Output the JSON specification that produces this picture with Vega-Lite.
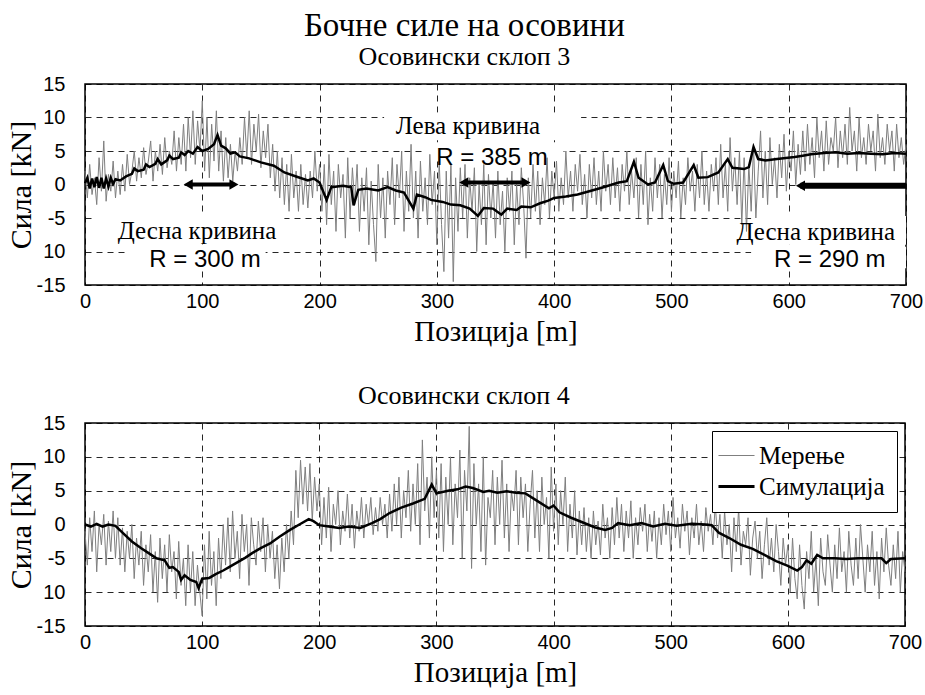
{
"$schema": "https://vega.github.io/schema/vega-lite/v6.json",
"background": "white",
"padding": {"left": 5, "top": 10, "right": 12, "bottom": 5},
"title": {"text": "Бочне силе на осовини", "font": "Liberation Serif", "fontSize": 33, "fontWeight": "normal", "color": "black", "anchor": "middle", "offset": 0},
"spacing": 35,
"resolve": {"scale": {"color": "independent", "shape": "independent"}, "legend": {"color": "independent", "shape": "independent"}},
"config": {
  "view": {"stroke": "black", "strokeWidth": 1.5},
  "axis": {"grid": true, "gridColor": "black", "gridDash": [6, 5], "gridWidth": 1, "gridOpacity": 0.85, "domain": false, "ticks": false, "labelFont": "Liberation Sans", "labelFontSize": 20, "labelColor": "black", "labelFlush": false, "labelOverlap": false, "titleFont": "Liberation Serif", "titleFontWeight": "normal", "titleColor": "black"},
  "axisX": {"labelPadding": 6, "titlePadding": 6, "titleFontSize": 29},
  "axisY": {"labelPadding": 20, "titlePadding": 0, "titleFontSize": 30},
  "title": {"font": "Liberation Serif", "fontSize": 26, "fontWeight": "normal", "color": "black", "offset": 4, "frame": "bounds", "anchor": "middle"},
  "legend": {"orient": "top-right", "offset": 8, "labelFont": "Liberation Serif", "labelFontSize": 25, "labelColor": "black", "symbolType": "stroke", "symbolSize": 1300, "strokeColor": "black", "fillColor": "white", "padding": 12, "rowPadding": 5, "labelOffset": 10, "symbolStrokeWidth": 2}
},
"datasets": {
"m3": [{"x":0,"y":2},{"x":2,"y":-2},{"x":4,"y":3},{"x":6,"y":-1.5},{"x":8,"y":1},{"x":10,"y":-3},{"x":12,"y":4},{"x":14,"y":-1},{"x":16,"y":6.5},{"x":18,"y":-2.5},{"x":20,"y":1.5},{"x":22,"y":-1},{"x":24,"y":3.5},{"x":26,"y":-2},{"x":28,"y":2},{"x":30,"y":-1.5},
{"x":32,"y":3},{"x":34,"y":-1},{"x":36,"y":4.5},{"x":38,"y":0},{"x":40,"y":2},{"x":42,"y":5},{"x":44,"y":0.5},{"x":46,"y":4},{"x":48,"y":1},{"x":50,"y":5.5},{"x":52,"y":1.5},{"x":54,"y":3.5},{"x":56,"y":6.5},{"x":58,"y":0.5},{"x":60,"y":5},{"x":62,"y":2},{"x":64,"y":6},{"x":66,"y":1.5},{"x":68,"y":7},{"x":70,"y":2.5},{"x":72,"y":5},{"x":74,"y":3},{"x":76,"y":8},{"x":78,"y":2},{"x":80,"y":7},
{"x":82,"y":3},{"x":84,"y":9},{"x":86,"y":2},{"x":88,"y":10},{"x":90,"y":4},{"x":92,"y":11},{"x":94,"y":3},{"x":96,"y":9.5},{"x":98,"y":5},{"x":100,"y":12.5},{"x":102,"y":2},{"x":104,"y":10},{"x":106,"y":1},{"x":108,"y":9},{"x":110,"y":3.5},{"x":112,"y":11},{"x":114,"y":2},{"x":116,"y":8},{"x":118,"y":0.5},{"x":120,"y":7},
{"x":122,"y":1},{"x":124,"y":6},{"x":126,"y":0.5},{"x":128,"y":5},{"x":130,"y":2},{"x":132,"y":7},{"x":134,"y":3},
{"x":136,"y":10},{"x":138,"y":4},{"x":140,"y":11},{"x":142,"y":3},{"x":144,"y":9},{"x":146,"y":5},{"x":148,"y":10.5},{"x":150,"y":2.5},{"x":152,"y":8},{"x":154,"y":4},{"x":156,"y":9},{"x":158,"y":1},{"x":160,"y":6},
{"x":162,"y":-1},{"x":164,"y":5},{"x":166,"y":-2},{"x":168,"y":4},{"x":170,"y":-3},{"x":172,"y":3},{"x":174,"y":-4},{"x":176,"y":4.5},{"x":178,"y":-2},{"x":180,"y":2},{"x":182,"y":-4},{"x":184,"y":3},{"x":186,"y":-3},{"x":188,"y":1.5},{"x":190,"y":-3.5},{"x":192,"y":2},{"x":194,"y":-2},{"x":196,"y":5},{"x":198,"y":-1},{"x":200,"y":3},
{"x":202,"y":-4},{"x":204,"y":3},{"x":206,"y":-6},{"x":208,"y":4.5},{"x":210,"y":-3},{"x":212,"y":2},{"x":214,"y":-7},{"x":216,"y":3},{"x":218,"y":-2},{"x":220,"y":1.5},{"x":222,"y":-8},{"x":224,"y":4},{"x":226,"y":-5},{"x":228,"y":2.5},{"x":230,"y":-3},{"x":232,"y":3},{"x":234,"y":-7},{"x":236,"y":1},{"x":238,"y":-4},{"x":240,"y":2.5},{"x":242,"y":-9},{"x":244,"y":0.5},{"x":246,"y":-6},{"x":248,"y":-11.5},{"x":250,"y":3},{"x":252,"y":-5},{"x":254,"y":1},{"x":256,"y":-8},{"x":258,"y":2},{"x":260,"y":-3},
{"x":262,"y":4},{"x":264,"y":-6},{"x":266,"y":3},{"x":268,"y":-2},{"x":270,"y":5},{"x":272,"y":-7},{"x":274,"y":2},{"x":276,"y":-4},{"x":278,"y":6},{"x":280,"y":-5},{"x":282,"y":2},{"x":284,"y":-8},{"x":286,"y":3.5},{"x":288,"y":-4},{"x":290,"y":1},{"x":292,"y":-6},{"x":294,"y":4.5},{"x":296,"y":-3},{"x":298,"y":2},{"x":300,"y":-9},{"x":302,"y":3.5},{"x":304,"y":-6},{"x":306,"y":-13},{"x":308,"y":2},{"x":310,"y":-8},{"x":312,"y":3},{"x":314,"y":-14.5},{"x":316,"y":1},{"x":318,"y":-7},{"x":320,"y":2.5},
{"x":322,"y":-5},{"x":324,"y":3},{"x":326,"y":-8},{"x":328,"y":1},{"x":330,"y":-4},{"x":332,"y":2.5},{"x":334,"y":-10},{"x":336,"y":0},{"x":338,"y":-6},{"x":340,"y":3},{"x":342,"y":-9},{"x":344,"y":1.5},{"x":346,"y":-5},{"x":348,"y":0.5},{"x":350,"y":-8},{"x":352,"y":2},{"x":354,"y":-6},{"x":356,"y":-1},{"x":358,"y":-10},{"x":360,"y":1},{"x":362,"y":-4},{"x":364,"y":2},{"x":366,"y":-9},{"x":368,"y":0},{"x":370,"y":-6},{"x":372,"y":2.5},{"x":374,"y":-3},{"x":376,"y":-11},{"x":378,"y":1},{"x":380,"y":-5},
{"x":382,"y":3},{"x":384,"y":-4},{"x":386,"y":2},{"x":388,"y":-6},{"x":390,"y":1},{"x":392,"y":-3},{"x":394,"y":4},{"x":396,"y":-5},{"x":398,"y":2},{"x":400,"y":-2},{"x":402,"y":3.5},{"x":404,"y":-4},{"x":406,"y":1},{"x":408,"y":-3},{"x":410,"y":5},{"x":412,"y":-2},{"x":414,"y":2},{"x":416,"y":-4},{"x":418,"y":3},{"x":420,"y":-1},{"x":422,"y":4.5},{"x":424,"y":-3},{"x":426,"y":1.5},{"x":428,"y":-5},{"x":430,"y":3},{"x":432,"y":-2},{"x":434,"y":4},{"x":436,"y":-3},{"x":438,"y":2},{"x":440,"y":-4},{"x":442,"y":5},{"x":444,"y":-1},{"x":446,"y":3},{"x":448,"y":-3},{"x":450,"y":4},{"x":452,"y":-2},{"x":454,"y":2.5},{"x":456,"y":-4},{"x":458,"y":3},{"x":460,"y":-1},{"x":462,"y":5},{"x":464,"y":-3},{"x":466,"y":2},{"x":468,"y":-2},{"x":470,"y":4},
{"x":472,"y":-5},{"x":474,"y":3},{"x":476,"y":-3},{"x":478,"y":5},{"x":480,"y":-6},{"x":482,"y":1},{"x":484,"y":-4},{"x":486,"y":4},{"x":488,"y":-2},{"x":490,"y":3},{"x":492,"y":-5},{"x":494,"y":1.5},{"x":496,"y":-3},{"x":498,"y":4},{"x":500,"y":-4},{"x":502,"y":2},{"x":504,"y":-2},{"x":506,"y":3.5},{"x":508,"y":-5},{"x":510,"y":1},{"x":512,"y":-3},{"x":514,"y":4},{"x":516,"y":-1},{"x":518,"y":2},{"x":520,"y":-4},{"x":522,"y":3},{"x":524,"y":-2},{"x":526,"y":5},{"x":528,"y":-3},{"x":530,"y":2},{"x":532,"y":-4},{"x":534,"y":3},{"x":536,"y":-1},{"x":538,"y":4},{"x":540,"y":-3},{"x":542,"y":6},{"x":544,"y":-2},{"x":546,"y":3},{"x":548,"y":-4},{"x":550,"y":7},{"x":552,"y":-1},{"x":554,"y":4},{"x":556,"y":-3},{"x":558,"y":5},{"x":560,"y":-6},
{"x":562,"y":4},{"x":564,"y":-7},{"x":566,"y":3},{"x":568,"y":-4},{"x":570,"y":6},{"x":572,"y":-5},{"x":574,"y":2},{"x":576,"y":8},{"x":578,"y":-2},{"x":580,"y":5},{"x":582,"y":-3},{"x":584,"y":7},{"x":586,"y":0},{"x":588,"y":4},{"x":590,"y":-2},{"x":592,"y":6},{"x":594,"y":1},{"x":596,"y":7.5},{"x":598,"y":-1},{"x":600,"y":5},{"x":602,"y":2},{"x":604,"y":8},{"x":606,"y":0},{"x":608,"y":6},{"x":610,"y":1.5},
{"x":612,"y":8},{"x":614,"y":2},{"x":616,"y":9},{"x":618,"y":3},{"x":620,"y":7},{"x":622,"y":1},{"x":624,"y":10},{"x":626,"y":4},{"x":628,"y":8},{"x":630,"y":2},{"x":632,"y":9.5},{"x":634,"y":3},{"x":636,"y":7},{"x":638,"y":5},{"x":640,"y":10},{"x":642,"y":2.5},{"x":644,"y":8},{"x":646,"y":4},{"x":648,"y":9},{"x":650,"y":3},{"x":652,"y":11.5},{"x":654,"y":5},{"x":656,"y":8},{"x":658,"y":2},{"x":660,"y":10},{"x":662,"y":4},{"x":664,"y":7},{"x":666,"y":3},{"x":668,"y":9},{"x":670,"y":5},{"x":672,"y":8},{"x":674,"y":2},{"x":676,"y":10.5},{"x":678,"y":4},{"x":680,"y":7},{"x":682,"y":3},{"x":684,"y":9},{"x":686,"y":5},{"x":688,"y":8},{"x":690,"y":2},{"x":692,"y":9},{"x":694,"y":4},{"x":696,"y":7},{"x":698,"y":3},{"x":700,"y":6}],
"s3": [{"x":0,"y":0.2},{"x":2,"y":1.0},{"x":4,"y":-0.6},{"x":6,"y":0.9},{"x":8,"y":-0.4},{"x":10,"y":1.1},{"x":12,"y":-0.5},{"x":14,"y":1.0},{"x":16,"y":-0.6},{"x":18,"y":0.9},{"x":20,"y":-0.3},{"x":22,"y":1.0},{"x":24,"y":0.1},{"x":26,"y":0.8},{"x":30,"y":0.6},{"x":35,"y":1.2},{"x":40,"y":1.6},{"x":42,"y":2.4},{"x":45,"y":2.0},{"x":50,"y":2.2},{"x":52,"y":3.0},{"x":55,"y":2.6},{"x":60,"y":3.1},{"x":62,"y":3.8},{"x":65,"y":3.0},{"x":70,"y":3.6},{"x":72,"y":4.3},{"x":75,"y":3.8},{"x":80,"y":4.0},{"x":82,"y":4.8},{"x":85,"y":4.4},{"x":88,"y":5.0},{"x":92,"y":4.6},{"x":96,"y":5.6},{"x":100,"y":5.0},{"x":105,"y":5.3},{"x":110,"y":6.0},{"x":113,"y":7.4},{"x":116,"y":5.8},{"x":120,"y":5.4},{"x":124,"y":4.6},{"x":128,"y":4.8},{"x":132,"y":4.2},{"x":140,"y":3.9},{"x":150,"y":3.3},{"x":161,"y":2.8},{"x":170,"y":1.8},{"x":180,"y":1.2},{"x":190,"y":0.6},{"x":195,"y":0.9},{"x":200,"y":0.3},{"x":206,"y":-2.3},{"x":210,"y":-0.4},{"x":220,"y":-0.2},{"x":227,"y":-0.4},{"x":229,"y":-3.1},{"x":233,"y":-0.8},{"x":240,"y":-0.6},{"x":250,"y":-0.9},{"x":258,"y":-0.4},{"x":265,"y":-0.9},{"x":272,"y":-1.2},{"x":280,"y":-3.6},{"x":283,"y":-1.5},{"x":290,"y":-1.9},{"x":295,"y":-2.3},{"x":305,"y":-2.6},{"x":312,"y":-3.0},{"x":320,"y":-3.1},{"x":328,"y":-3.6},{"x":335,"y":-4.7},{"x":340,"y":-3.5},{"x":348,"y":-3.6},{"x":355,"y":-4.5},{"x":360,"y":-3.6},{"x":368,"y":-3.8},{"x":372,"y":-3.3},{"x":380,"y":-3.4},{"x":388,"y":-2.8},{"x":395,"y":-2.4},{"x":400,"y":-2.0},{"x":410,"y":-1.8},{"x":420,"y":-1.5},{"x":430,"y":-1.0},{"x":442,"y":-0.4},{"x":455,"y":0.3},{"x":462,"y":0.5},{"x":468,"y":3.4},{"x":472,"y":1.0},{"x":480,"y":0},{"x":486,"y":0.3},{"x":493,"y":2.9},{"x":497,"y":0.5},{"x":502,"y":0.1},{"x":510,"y":0.3},{"x":519,"y":2.9},{"x":523,"y":1.0},{"x":531,"y":1.1},{"x":540,"y":1.8},{"x":548,"y":3.8},{"x":552,"y":2.5},{"x":562,"y":2.3},{"x":566,"y":2.6},{"x":570,"y":5.6},{"x":574,"y":3.8},{"x":580,"y":3.6},{"x":590,"y":3.8},{"x":605,"y":4.1},{"x":612,"y":4.3},{"x":619,"y":4.5},{"x":630,"y":4.7},{"x":640,"y":4.8},{"x":650,"y":4.6},{"x":660,"y":4.7},{"x":670,"y":4.6},{"x":680,"y":4.5},{"x":690,"y":4.7},{"x":700,"y":4.6}],
"m4": [{"x":0,"y":-1},{"x":2,"y":-6},{"x":4,"y":1},{"x":6,"y":-4},{"x":8,"y":2},{"x":10,"y":-7},{"x":12,"y":0},{"x":14,"y":-3},{"x":16,"y":1.5},{"x":18,"y":-6},{"x":20,"y":0.5},{"x":22,"y":-4},{"x":24,"y":2},{"x":26,"y":-5},{"x":28,"y":1},{"x":30,"y":-6},
{"x":32,"y":-0.5},{"x":34,"y":-7},{"x":36,"y":-1},{"x":38,"y":-5},{"x":40,"y":0},{"x":42,"y":-8},{"x":44,"y":-2},{"x":46,"y":-6},{"x":48,"y":-1},{"x":50,"y":-9},{"x":52,"y":-3},{"x":54,"y":-7},{"x":56,"y":-1.5},{"x":58,"y":-10},{"x":60,"y":-4},{"x":62,"y":-11.5},{"x":64,"y":-2},{"x":66,"y":-8},{"x":68,"y":-3},{"x":70,"y":-10},{"x":72,"y":-1.5},{"x":74,"y":-7},{"x":76,"y":-4},{"x":78,"y":-11},{"x":80,"y":-2.5},{"x":82,"y":-9},{"x":84,"y":-5},{"x":86,"y":-12},{"x":88,"y":-3},{"x":90,"y":-10},
{"x":92,"y":-4},{"x":94,"y":-12},{"x":96,"y":-6},{"x":98,"y":-10},{"x":100,"y":-13.5},{"x":102,"y":-3},{"x":104,"y":-11},{"x":106,"y":-1},{"x":108,"y":-9},{"x":110,"y":-4},{"x":112,"y":-12},
{"x":114,"y":-2},{"x":116,"y":-8},{"x":118,"y":0},{"x":120,"y":-6},{"x":122,"y":1},{"x":124,"y":-7},{"x":126,"y":2},{"x":128,"y":-5},{"x":130,"y":-1},{"x":132,"y":-8},{"x":134,"y":1.5},{"x":136,"y":-4},{"x":138,"y":0},{"x":140,"y":-9},{"x":142,"y":1},{"x":144,"y":-3},{"x":146,"y":-6},{"x":148,"y":0.5},{"x":150,"y":-4},{"x":152,"y":1},{"x":154,"y":-7},{"x":156,"y":0},{"x":158,"y":-5},{"x":160,"y":-1},{"x":162,"y":-8},{"x":164,"y":-3},{"x":166,"y":-9.5},{"x":168,"y":-2},{"x":170,"y":-7},
{"x":172,"y":0},{"x":174,"y":-5},{"x":176,"y":2},{"x":178,"y":-3},
{"x":180,"y":8},{"x":182,"y":1},{"x":184,"y":9.5},{"x":186,"y":3},{"x":188,"y":8.5},{"x":190,"y":2},{"x":192,"y":9},{"x":194,"y":0.5},{"x":196,"y":7},{"x":198,"y":2},
{"x":200,"y":6},{"x":202,"y":-3},{"x":204,"y":4},{"x":206,"y":-2},{"x":208,"y":5.5},{"x":210,"y":-4},{"x":212,"y":3},{"x":214,"y":0},{"x":216,"y":5},{"x":218,"y":-3},{"x":220,"y":2},{"x":222,"y":-1},{"x":224,"y":4.5},{"x":226,"y":-2},{"x":228,"y":3},{"x":230,"y":-3.5},{"x":232,"y":2},{"x":234,"y":-1},
{"x":236,"y":4},{"x":238,"y":-2},{"x":240,"y":3},{"x":242,"y":0},{"x":244,"y":4},{"x":246,"y":-1.5},{"x":248,"y":2.5},{"x":250,"y":-1},{"x":252,"y":4},{"x":254,"y":0},{"x":256,"y":3},{"x":258,"y":-2},{"x":260,"y":4.5},
{"x":262,"y":-1},{"x":264,"y":6},{"x":266,"y":0},{"x":268,"y":7},{"x":270,"y":-2},{"x":272,"y":5},{"x":274,"y":1},{"x":276,"y":8},{"x":278,"y":-1},{"x":280,"y":6},{"x":282,"y":0},{"x":284,"y":9},{"x":286,"y":-3},{"x":288,"y":12.5},{"x":290,"y":2},{"x":292,"y":7},{"x":294,"y":-2},{"x":296,"y":10},{"x":298,"y":1},{"x":300,"y":8},
{"x":302,"y":-2},{"x":304,"y":9},{"x":306,"y":-4},{"x":308,"y":7},{"x":310,"y":0},{"x":312,"y":10},{"x":314,"y":-3},{"x":316,"y":6},{"x":318,"y":1},{"x":320,"y":11},{"x":322,"y":-5},{"x":324,"y":8},{"x":326,"y":2},{"x":328,"y":14.5},{"x":330,"y":-6.5},{"x":332,"y":9},{"x":334,"y":0},{"x":336,"y":6},{"x":338,"y":-4},{"x":340,"y":10},{"x":342,"y":-6},{"x":344,"y":4},{"x":346,"y":1},{"x":348,"y":8},{"x":350,"y":-3},{"x":352,"y":7},{"x":354,"y":0},{"x":356,"y":9.5},{"x":358,"y":-2},{"x":360,"y":6},{"x":362,"y":-4},{"x":364,"y":5},{"x":366,"y":2},{"x":368,"y":8},{"x":370,"y":-3},{"x":372,"y":7},{"x":374,"y":1},{"x":376,"y":6},{"x":378,"y":-4},{"x":380,"y":3},
{"x":382,"y":8},{"x":384,"y":-2},{"x":386,"y":5},{"x":388,"y":-4},{"x":390,"y":7},{"x":392,"y":0},{"x":394,"y":4},{"x":396,"y":-5},{"x":398,"y":8.5},{"x":400,"y":-1},{"x":402,"y":6},{"x":404,"y":-3},{"x":406,"y":5},{"x":408,"y":0},{"x":410,"y":7},{"x":412,"y":-4},{"x":414,"y":3},{"x":416,"y":-2},{"x":418,"y":5},{"x":420,"y":-4.5},{"x":422,"y":2},{"x":424,"y":-3},
{"x":426,"y":2.5},{"x":428,"y":-4},{"x":430,"y":1},{"x":432,"y":-5},{"x":434,"y":2},{"x":436,"y":-3},{"x":438,"y":0.5},{"x":440,"y":-4.5},{"x":442,"y":3},{"x":444,"y":-2},{"x":446,"y":1},{"x":448,"y":-5},{"x":450,"y":2.5},{"x":452,"y":-3},{"x":454,"y":4},{"x":456,"y":-2},
{"x":458,"y":3},{"x":460,"y":-4},{"x":462,"y":2},{"x":464,"y":-2},{"x":466,"y":3.5},{"x":468,"y":-5},{"x":470,"y":1},{"x":472,"y":-3},{"x":474,"y":2.5},{"x":476,"y":-1},{"x":478,"y":3},{"x":480,"y":-4},{"x":482,"y":1.5},{"x":484,"y":-2.5},{"x":486,"y":2},{"x":488,"y":-5},{"x":490,"y":1},{"x":492,"y":-3},{"x":494,"y":3},{"x":496,"y":-1.5},{"x":498,"y":2},{"x":500,"y":-4},{"x":502,"y":4},{"x":504,"y":-2},{"x":506,"y":1},{"x":508,"y":-3.5},{"x":510,"y":3},{"x":512,"y":-1},{"x":514,"y":2},{"x":516,"y":-4.5},{"x":518,"y":1},{"x":520,"y":-2},{"x":522,"y":3},{"x":524,"y":-3},{"x":526,"y":0.5},{"x":528,"y":-4},{"x":530,"y":2.5},{"x":532,"y":-1},{"x":534,"y":1.5},{"x":536,"y":-3},{"x":538,"y":3},{"x":540,"y":-2},
{"x":542,"y":1.5},{"x":544,"y":-5},{"x":546,"y":2},{"x":548,"y":-3},{"x":550,"y":0},{"x":552,"y":-7},{"x":554,"y":1},{"x":556,"y":-4},{"x":558,"y":2.5},{"x":560,"y":-6},{"x":562,"y":-1},{"x":564,"y":-3},{"x":566,"y":1},{"x":568,"y":-7.5},{"x":570,"y":-2},{"x":572,"y":0.5},{"x":574,"y":-5},{"x":576,"y":-1},{"x":578,"y":-8},{"x":580,"y":-3},{"x":582,"y":1},{"x":584,"y":-6},{"x":586,"y":-2},{"x":588,"y":-7},{"x":590,"y":0},{"x":592,"y":-4},{"x":594,"y":-9},{"x":596,"y":-2},{"x":598,"y":-6},{"x":600,"y":-3},
{"x":602,"y":-10},{"x":604,"y":-2},{"x":606,"y":-8},{"x":608,"y":-11},{"x":610,"y":-3},{"x":612,"y":-9},{"x":614,"y":-12.5},{"x":616,"y":-4},{"x":618,"y":-8},{"x":620,"y":-1},{"x":622,"y":-10},{"x":624,"y":-5},{"x":626,"y":-12},{"x":628,"y":-2},{"x":630,"y":-7},{"x":632,"y":-9},{"x":634,"y":-1.5},{"x":636,"y":-6},{"x":638,"y":-10},{"x":640,"y":-3},{"x":642,"y":-8},{"x":644,"y":-0.5},{"x":646,"y":-7},{"x":648,"y":-4},{"x":650,"y":-10},{"x":652,"y":-1},{"x":654,"y":-6},{"x":656,"y":-9},{"x":658,"y":-2},{"x":660,"y":-8},{"x":662,"y":0},{"x":664,"y":-5},{"x":666,"y":-10},{"x":668,"y":-3},{"x":670,"y":-7},{"x":672,"y":-1},{"x":674,"y":-9},{"x":676,"y":-4},{"x":678,"y":-11},{"x":680,"y":-2},{"x":682,"y":-7},{"x":684,"y":-0.5},{"x":686,"y":-6},{"x":688,"y":-9},{"x":690,"y":-3},{"x":692,"y":-8},{"x":694,"y":-1},{"x":696,"y":-10},{"x":698,"y":-4},{"x":700,"y":-7}],
"s4": [{"x":0,"y":0},{"x":5,"y":-0.3},{"x":10,"y":0.1},{"x":15,"y":-0.3},{"x":20,"y":0},{"x":26,"y":-0.2},{"x":32,"y":-1.2},{"x":40,"y":-2.5},{"x":48,"y":-3.5},{"x":55,"y":-4.3},{"x":61,"y":-5},{"x":68,"y":-5.3},{"x":72,"y":-6.4},{"x":75,"y":-6.3},{"x":80,"y":-7},{"x":82,"y":-8.2},{"x":85,"y":-7.5},{"x":90,"y":-8.2},{"x":95,"y":-8.5},{"x":97,"y":-9.4},{"x":100,"y":-8.0},{"x":106,"y":-7.9},{"x":112,"y":-7.3},{"x":118,"y":-6.8},{"x":123,"y":-6.3},{"x":130,"y":-5.6},{"x":137,"y":-4.9},{"x":143,"y":-4.2},{"x":150,"y":-3.5},{"x":158,"y":-2.8},{"x":166,"y":-1.8},{"x":175,"y":-0.8},{"x":183,"y":0},{"x":191,"y":0.8},{"x":195,"y":0.5},{"x":200,"y":-0.1},{"x":208,"y":-0.3},{"x":217,"y":-0.5},{"x":225,"y":-0.3},{"x":235,"y":-0.5},{"x":245,"y":0.2},{"x":252,"y":0.8},{"x":260,"y":1.7},{"x":270,"y":2.5},{"x":280,"y":3.1},{"x":290,"y":3.8},{"x":296,"y":5.9},{"x":300,"y":4.6},{"x":310,"y":5.0},{"x":318,"y":5.2},{"x":325,"y":5.6},{"x":331,"y":5.4},{"x":340,"y":4.8},{"x":345,"y":5.0},{"x":352,"y":4.7},{"x":360,"y":4.9},{"x":368,"y":4.7},{"x":376,"y":4.6},{"x":385,"y":3.6},{"x":396,"y":2.4},{"x":400,"y":2.8},{"x":405,"y":1.8},{"x":415,"y":1.0},{"x":425,"y":0.3},{"x":435,"y":-0.4},{"x":444,"y":-0.8},{"x":450,"y":-0.5},{"x":455,"y":0.2},{"x":465,"y":-0.1},{"x":475,"y":0.2},{"x":485,"y":-0.3},{"x":495,"y":0.1},{"x":505,"y":-0.2},{"x":518,"y":0.1},{"x":530,"y":0},{"x":535,"y":-0.1},{"x":541,"y":-1.2},{"x":550,"y":-2.0},{"x":560,"y":-3.0},{"x":570,"y":-3.6},{"x":580,"y":-4.5},{"x":590,"y":-5.4},{"x":600,"y":-6.1},{"x":608,"y":-6.8},{"x":612,"y":-6.3},{"x":616,"y":-5.3},{"x":620,"y":-5.8},{"x":625,"y":-4.5},{"x":630,"y":-5.0},{"x":640,"y":-5.0},{"x":650,"y":-5.1},{"x":660,"y":-5.0},{"x":670,"y":-5.0},{"x":680,"y":-5.0},{"x":684,"y":-5.7},{"x":688,"y":-5.1},{"x":700,"y":-5.0}],
"ann": [{"x":95.5,"y":-7.0,"t":"Десна кривина","f":"serif"},{"x":102.3,"y":-11.2,"t":"R = 300 m","f":"sans"},{"x":326.5,"y":8.7,"t":"Лева кривина","f":"serif"},{"x":347,"y":4.0,"t":"R = 385 m","f":"sans"},{"x":623,"y":-7.1,"t":"Десна кривина","f":"serif"},{"x":635,"y":-11.2,"t":"R = 290 m","f":"sans"}],
"box": [{"x1":255,"x2":423,"y1":6.6,"y2":10.7},{"x1":288,"x2":408,"y1":3.9,"y2":6.3},{"x1":8,"x2":170,"y1":-8.9,"y2":-4.7},{"x1":37,"x2":154,"y1":-12.5,"y2":-9.5},{"x1":568,"x2":700,"y1":-9,"y2":-4.7},{"x1":568,"x2":700,"y1":-12.5,"y2":-9.3}],
"arr": [{"x1":89,"x2":126,"y":0,"a":"l"},{"x1":324,"x2":375,"y":0.3,"a":"m"},{"x1":610,"x2":700,"y":-0.2,"a":"r"}],
"head": [{"x":88,"y":0,"d":"L"},{"x":127,"y":0,"d":"R"},{"x":323,"y":0.3,"d":"L"},{"x":376,"y":0.3,"d":"R"},{"x":610,"y":-0.2,"d":"L"}]
},
"vconcat": [
{
 "width": 821, "height": 201,
 "title": {"text": "Осовински склоп 3"},
 "layer": [
  {"data": {"name": "box"}, "mark": {"type": "rect", "fill": "white"},
   "encoding": {
     "x": {"field": "x1", "type": "quantitative", "scale": {"domain": [0, 700], "nice": false}, "axis": {"values": [0,100,200,300,400,500,600,700], "tickCount": 20, "title": "Позиција [m]", "labelOverlap": false}},
     "x2": {"field": "x2"},
     "y": {"field": "y1", "type": "quantitative", "scale": {"domain": [-15, 15], "nice": false}, "axis": {"values": [-15,-10,-5,0,5,10,15], "tickCount": 20, "title": "Сила [kN]", "labelOverlap": false, "labelExpr": "datum.value == -10 ? '10' : (datum.value < 0 ? '-' + abs(datum.value) : datum.label)"}},
     "y2": {"field": "y2"}}},
  {"data": {"name": "m3"}, "mark": {"type": "line", "color": "#7f7f7f", "strokeWidth": 1},
   "encoding": {"x": {"field": "x", "type": "quantitative"}, "y": {"field": "y", "type": "quantitative"}}},
  {"data": {"name": "s3"}, "mark": {"type": "line", "color": "black", "strokeWidth": 2.5},
   "encoding": {"x": {"field": "x", "type": "quantitative"}, "y": {"field": "y", "type": "quantitative"}}},
  {"data": {"name": "arr"}, "transform": [{"filter": "datum.a != 'r'"}], "mark": {"type": "rule", "color": "black", "strokeWidth": 4},
   "encoding": {"x": {"field": "x1", "type": "quantitative"}, "x2": {"field": "x2"}, "y": {"field": "y", "type": "quantitative"}}},
  {"data": {"name": "arr"}, "transform": [{"filter": "datum.a == 'r'"}], "mark": {"type": "rule", "color": "black", "strokeWidth": 6},
   "encoding": {"x": {"field": "x1", "type": "quantitative"}, "x2": {"field": "x2"}, "y": {"field": "y", "type": "quantitative"}}},
  {"data": {"name": "head"}, "mark": {"type": "point", "filled": true, "color": "black", "opacity": 1, "size": 110},
   "encoding": {"x": {"field": "x", "type": "quantitative"}, "y": {"field": "y", "type": "quantitative"},
     "shape": {"field": "d", "type": "nominal", "scale": {"domain": ["L", "R"], "range": ["triangle-left", "triangle-right"]}, "legend": null}}},
  {"data": {"name": "ann"}, "transform": [{"filter": "datum.f == 'serif'"}], "mark": {"type": "text", "font": "Liberation Serif", "fontSize": 25, "color": "black", "align": "center", "baseline": "middle"},
   "encoding": {"x": {"field": "x", "type": "quantitative"}, "y": {"field": "y", "type": "quantitative"}, "text": {"field": "t"}}},
  {"data": {"name": "ann"}, "transform": [{"filter": "datum.f == 'sans'"}], "mark": {"type": "text", "font": "Liberation Sans", "fontSize": 24, "color": "black", "align": "center", "baseline": "middle"},
   "encoding": {"x": {"field": "x", "type": "quantitative"}, "y": {"field": "y", "type": "quantitative"}, "text": {"field": "t"}}}
 ]
},
{
 "width": 820, "height": 203,
 "title": {"text": "Осовински склоп 4"},
 "layer": [
  {"data": {"name": "m4"}, "mark": {"type": "line", "strokeWidth": 1},
   "encoding": {
     "x": {"field": "x", "type": "quantitative", "scale": {"domain": [0, 700], "nice": false}, "axis": {"values": [0,100,200,300,400,500,600,700], "tickCount": 20, "title": "Позиција [m]", "labelOverlap": false}},
     "y": {"field": "y", "type": "quantitative", "scale": {"domain": [-15, 15], "nice": false}, "axis": {"values": [-15,-10,-5,0,5,10,15], "tickCount": 20, "title": "Сила [kN]", "labelOverlap": false, "labelExpr": "datum.value == -10 ? '10' : (datum.value < 0 ? '-' + abs(datum.value) : datum.label)"}},
     "color": {"datum": "Мерење", "type": "nominal", "scale": {"domain": ["Мерење", "Симулација"], "range": ["#7f7f7f", "black"]},
       "legend": {"title": null, "encode": {"symbols": {"update": {"strokeWidth": {"signal": "datum.value == 'Мерење' ? 1 : 3"}}}}}}}},
  {"data": {"name": "s4"}, "mark": {"type": "line", "strokeWidth": 2.5},
   "encoding": {"x": {"field": "x", "type": "quantitative"}, "y": {"field": "y", "type": "quantitative"}, "color": {"datum": "Симулација", "type": "nominal"}}}
 ]
}
]
}
